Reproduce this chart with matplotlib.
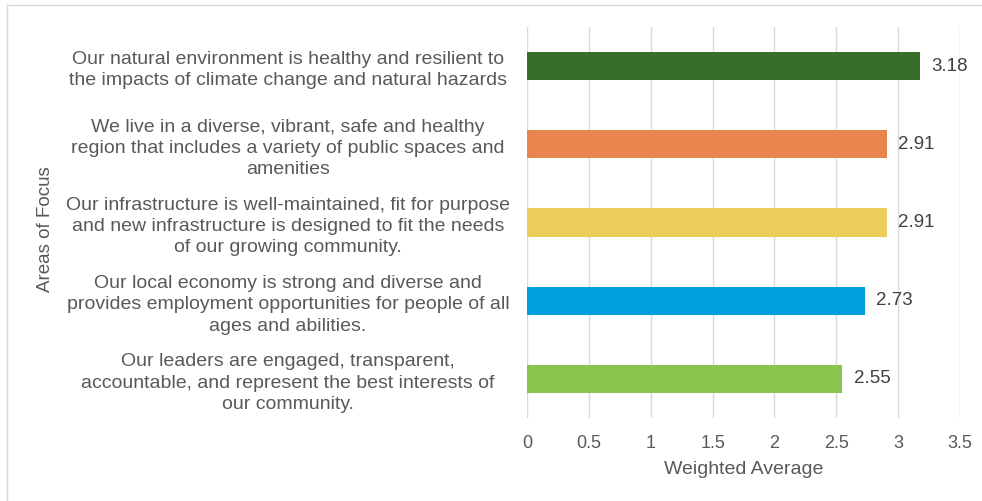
import matplotlib.pyplot as plt
from matplotlib.lines import Line2D

plt.rcParams['font.family'] = ['Liberation Sans', 'DejaVu Sans']

# Survey results: weighted average per area of focus (top to bottom)
areas = [
    "Our natural environment is healthy and resilient to\nthe impacts of climate change and natural hazards",
    "We live in a diverse, vibrant, safe and healthy\nregion that includes a variety of public spaces and\namenities",
    "Our infrastructure is well-maintained, fit for purpose\nand new infrastructure is designed to fit the needs\nof our growing community.",
    "Our local economy is strong and diverse and\nprovides employment opportunities for people of all\nages and abilities.",
    "Our leaders are engaged, transparent,\naccountable, and represent the best interests of\nour community.",
]
weighted_avg = [3.18, 2.91, 2.91, 2.73, 2.55]
bar_colors = ['#386F28', '#E9854F', '#ECCD5C', '#009FDC', '#8BC34F']
x_ticks = [0, 0.5, 1, 1.5, 2, 2.5, 3, 3.5]

fig = plt.figure(figsize=(9.82, 5.01), dpi=100)
ax = fig.add_axes([527 / 982, 1 - 418 / 501, (960 - 527) / 982, (418 - 27) / 501])

ypos = list(range(len(areas)))[::-1]
bars = ax.barh(ypos, weighted_avg, height=0.36, color=bar_colors, zorder=3)

for rect, val in zip(bars, weighted_avg):
    ax.annotate(f"{val:.2f}", xy=(rect.get_width(), rect.get_y() + rect.get_height() / 2),
                xytext=(8, 0), textcoords='offset points', va='center', ha='left',
                fontsize=13.5, color='#404040')

ax.set_xlim(0, 3.5)
ax.set_ylim(-0.5, len(areas) - 0.5)
ax.set_xticks(x_ticks)
ax.set_xticklabels([f"{t:g}" for t in x_ticks])
ax.set_yticks(ypos)
ax.set_yticklabels(areas)

# wrapped category labels centred in the space left of the plot
for lbl in ax.get_yticklabels():
    lbl.set_horizontalalignment('center')
    lbl.set_multialignment('center')
    lbl.set_linespacing(1.33)
ax.tick_params(axis='y', length=0, pad=(527 - 288) / (100 / 72), labelsize=14, labelcolor='#595959')
ax.tick_params(axis='x', length=0, pad=12, labelsize=13, labelcolor='#595959')

ax.grid(axis='x', color='#D9D9D9', linewidth=1, zorder=0)
for side in ['top', 'right', 'bottom', 'left']:
    ax.spines[side].set_visible(False)

ax.set_xlabel('Weighted Average', fontsize=14, color='#595959', labelpad=7)
fig.text(45 / 982, 1 - 229 / 501, 'Areas of Focus', rotation=90, ha='center', va='center',
         fontsize=13.5, color='#595959')

# chart frame
fig.add_artist(Line2D([7 / 982, 1], [1 - 5 / 501, 1 - 5 / 501], transform=fig.transFigure,
                      color='#D9D9D9', linewidth=1))
fig.add_artist(Line2D([7 / 982, 7 / 982], [0, 1 - 5 / 501], transform=fig.transFigure,
                      color='#D9D9D9', linewidth=1))

fig.savefig('out.png', dpi=100, facecolor='white')
